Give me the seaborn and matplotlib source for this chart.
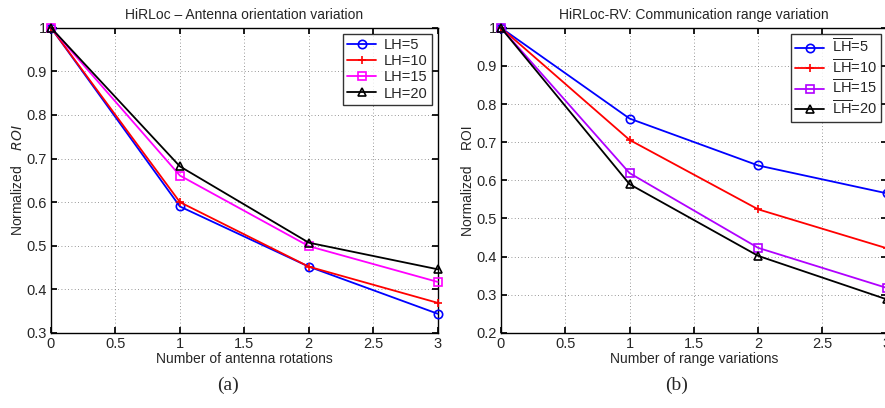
import matplotlib
matplotlib.use('Agg')
import matplotlib.pyplot as plt
import seaborn as sns

sns.set_theme()
sns.set_style("white")
plt.rcParams['font.family'] = ['Liberation Sans', 'DejaVu Sans']
plt.rcParams['mathtext.fontset'] = 'custom'
plt.rcParams['mathtext.rm'] = 'Liberation Sans'

# dados
x_vals = [0, 1, 2, 3]
rotulos_lh = ["5", "10", "15", "20"]

# (a) variacao de orientacao da antena
roi_a_lh5 = [1.0, 0.590, 0.452, 0.344]
roi_a_lh10 = [1.0, 0.600, 0.452, 0.369]
roi_a_lh15 = [1.0, 0.661, 0.499, 0.417]
roi_a_lh20 = [1.0, 0.682, 0.507, 0.446]

# (b) variacao do alcance de comunicacao
roi_b_lh5 = [1.0, 0.762, 0.639, 0.566]
roi_b_lh10 = [1.0, 0.706, 0.524, 0.422]
roi_b_lh15 = [1.0, 0.619, 0.423, 0.318]
roi_b_lh20 = [1.0, 0.590, 0.402, 0.288]

marcadores = ['o', '+', 's', '^']
cores_a = ['#0000ff', '#ff0000', '#ff00ff', '#000000']
cores_b = ['#0000ff', '#ff0000', '#b000ff', '#000000']

fig = plt.figure(figsize=(8.85, 4.08), dpi=100)
ax_a = fig.add_axes([0.0576, 0.184, 0.437, 0.748])
ax_b = fig.add_axes([0.566, 0.184, 0.436, 0.748])


def desenha(ax, series, cores, labels):
    for y, c, m, lab in zip(series, cores, marcadores, labels):
        sns.lineplot(x=x_vals, y=y, ax=ax, color=c, marker=m, markersize=6,
                     markerfacecolor='none', markeredgecolor=c,
                     markeredgewidth=1.2, linewidth=1.3, label=lab,
                     clip_on=False, zorder=3)
    ax.set_xlim(0, 3)
    ax.set_xticks([0, 0.5, 1, 1.5, 2, 2.5, 3])
    ax.set_xticklabels(['0', '0.5', '1', '1.5', '2', '2.5', '3'])
    ax.grid(True, linestyle=(0, (1, 3)), color='#777777', linewidth=0.6)
    ax.tick_params(direction='in', length=4, labelsize=10.5, pad=3,
                   top=True, right=True, bottom=True, left=True, color='black')
    for s in ax.spines.values():
        s.set_color('black')
        s.set_linewidth(1.0)
    leg = ax.legend(loc='upper right', fontsize=10.5, frameon=True, fancybox=False,
                    borderpad=0.3, labelspacing=0.15, handlelength=2.0,
                    handletextpad=0.5, borderaxespad=0.4)
    leg.get_frame().set_edgecolor('black')
    leg.get_frame().set_linewidth(1.0)


desenha(ax_a, [roi_a_lh5, roi_a_lh10, roi_a_lh15, roi_a_lh20], cores_a,
        ['LH=' + r for r in rotulos_lh])
ax_a.set_ylim(0.3, 1.0)
ax_a.set_yticks([0.3, 0.4, 0.5, 0.6, 0.7, 0.8, 0.9, 1.0])
ax_a.set_yticklabels(['0.3', '0.4', '0.5', '0.6', '0.7', '0.8', '0.9', '1'])
ax_a.set_title('HiRLoc \u2013 Antenna orientation variation', fontsize=10, pad=6)
ax_a.set_xlabel('Number of antenna rotations', fontsize=10, labelpad=1)
ax_a.set_ylabel(r'Normalized    $\it{ROI}$', fontsize=10, labelpad=1)

desenha(ax_b, [roi_b_lh5, roi_b_lh10, roi_b_lh15, roi_b_lh20], cores_b,
        [r'$\overline{\mathrm{LH}}$=' + r for r in rotulos_lh])
ax_b.set_ylim(0.2, 1.0)
ax_b.set_yticks([0.2, 0.3, 0.4, 0.5, 0.6, 0.7, 0.8, 0.9, 1.0])
ax_b.set_yticklabels(['0.2', '0.3', '0.4', '0.5', '0.6', '0.7', '0.8', '0.9', '1'])
ax_b.set_title('HiRLoc-RV: Communication range variation', fontsize=10, pad=6)
ax_b.set_xlabel('Number of range variations', fontsize=10, labelpad=1)
ax_b.set_ylabel('Normalized    ROI', fontsize=10, labelpad=1)

fig.text(228 / 885, 1 - 385 / 408, '(a)', family='Liberation Serif', fontsize=14,
         ha='center', va='center')
fig.text(677 / 885, 1 - 385 / 408, '(b)', family='Liberation Serif', fontsize=14,
         ha='center', va='center')

fig.savefig('out.png', dpi=100)
plt.close(fig)
